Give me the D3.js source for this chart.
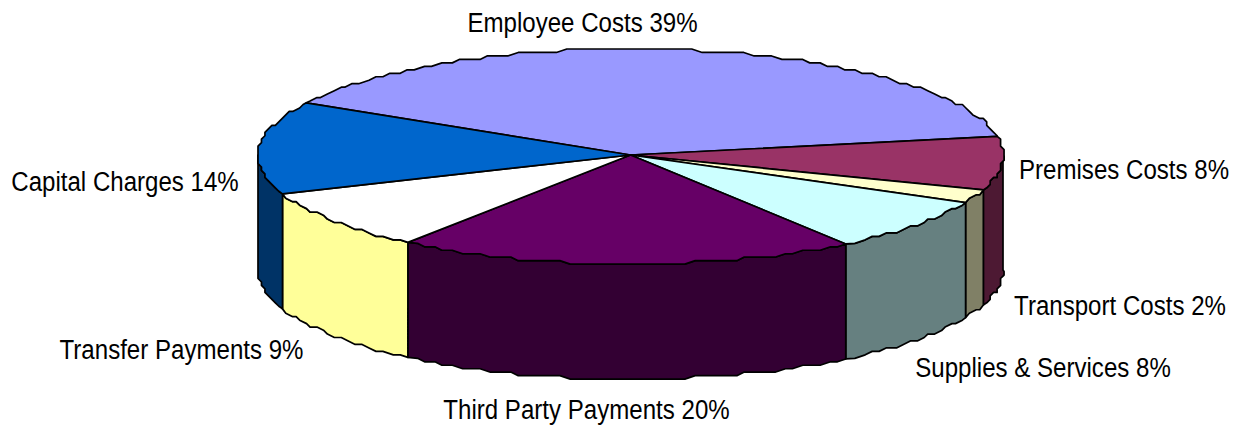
<!DOCTYPE html>
<html>
<head>
<meta charset="utf-8">
<script src="https://cdn.jsdelivr.net/npm/d3@7/dist/d3.min.js"></script>
<style>
html,body{margin:0;padding:0;background:#fff;}
svg{display:block;}
text{font-family:"Liberation Sans",Arial,sans-serif;font-size:28px;fill:#000;}
</style>
</head>
<body>
<svg id="chart" width="1236" height="425"></svg>
<script>
// Budget breakdown, drawn as a tilted 3-D pie
const categories = ["Employee Costs","Premises Costs","Transport Costs","Supplies & Services","Third Party Payments","Transfer Payments","Capital Charges"];
const shares = [39,8,2,8,20,9,14];
const topColors = ["#9999FF","#993366","#FFFFCC","#CCFFFF","#660066","#FFFFFF","#0066CC"];
const sideColors = ["#4D4D80","#4D1933","#808066","#668080","#330033","#FFFF99","#003366"];
const labelCentres = [[582.5,32],[1124,179],[1120,315],[1043,377],[586.5,419],[181.5,359],[125,191]];

const rx = 372.5, cx = 630.5, depth = 115;
const gridStep = 3.47, sampleStep = 0.028, labelSqueeze = 0.86;

const svg = d3.select("#chart");
const px = d3.scaleLinear().domain([-1,1]).range([cx-rx,cx+rx]);
// The near half of the disc is drawn slightly larger than the far half
const py = d3.scaleLinear().domain([-1,0,1]).range([49,155,264]);

const startDeg = -60.5;
const pie = d3.pie().sort(null)
  .startAngle(startDeg*Math.PI/180)
  .endAngle((startDeg+360)*Math.PI/180);
const arcs = pie(shares);

// Rim points snap to a coarse grid anchored at the disc's extremes,
// which gives the outline its stepped look
const snapTo = (v, origin) => origin + Math.round((v-origin)/gridStep)*gridStep;
function rim(a0, a1, dy){
  const pts = [[px(Math.sin(a0)), py(-Math.cos(a0))+dy]];
  const first = Math.ceil(a0/sampleStep+0.3);
  const last = Math.floor(a1/sampleStep-0.3);
  for(let k=first;k<=last;k++){
    const a = k*sampleStep;
    const p = [snapTo(px(Math.sin(a)), px(-1)), snapTo(py(-Math.cos(a)), py(-1))+dy];
    const prev = pts[pts.length-1];
    if(p[0]!==prev[0]||p[1]!==prev[1]) pts.push(p);
  }
  pts.push([px(Math.sin(a1)), py(-Math.cos(a1))+dy]);
  return pts;
}
const line = d3.line();

// Outer wall: only the part of each slice that faces the viewer
const front0 = Math.PI/2, front1 = Math.PI*3/2;
const walls = svg.append("g");
arcs.forEach((d,i)=>{
  const a0 = Math.max(d.startAngle, front0), a1 = Math.min(d.endAngle, front1);
  if(a1<=a0) return;
  const top = rim(a0,a1,0);
  const bottom = rim(a0,a1,depth).reverse();
  walls.append("path")
    .attr("d", line(top.concat(bottom))+"Z")
    .attr("fill", sideColors[i])
    .attr("stroke","#000").attr("stroke-width",1.7).attr("stroke-linejoin","round");
});

// Top faces
const faces = svg.append("g");
arcs.forEach((d,i)=>{
  const pts = [[px(0),py(0)]].concat(rim(d.startAngle,d.endAngle,0));
  faces.append("path")
    .attr("d", line(pts)+"Z")
    .attr("fill", topColors[i])
    .attr("stroke","#000").attr("stroke-width",1.7).attr("stroke-linejoin","round");
});

// Category labels with their percentages
svg.append("g").selectAll("text").data(categories).join("text")
  .attr("text-anchor","middle")
  .attr("transform",(d,i)=>`translate(${labelCentres[i][0]},${labelCentres[i][1]}) scale(${labelSqueeze},1)`)
  .text((d,i)=>`${d} ${shares[i]}%`);
</script>
</body>
</html>
